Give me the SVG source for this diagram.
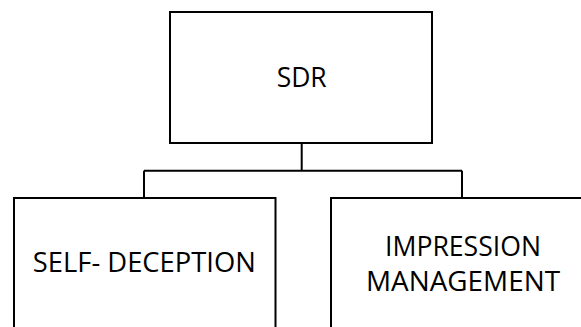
<svg xmlns="http://www.w3.org/2000/svg" width="581" height="327" viewBox="0 0 581 327">
<style>
.box{fill:#ffffff;stroke:#000000;stroke-width:2}
.conn{fill:none;stroke:#000000;stroke-width:2}
.lbl{font-family:"Open Sans","Noto Sans","Liberation Sans",sans-serif;font-size:28px;fill:#000000;text-anchor:middle}
</style>
<rect width="581" height="327" fill="#ffffff"/>
<g id="connectors">
<path class="conn" d="M301.7,143 V170.7 M144,170.7 H462 M144,170.7 V198 M462,170.7 V198"/>
</g>
<g id="sdr">
<rect class="box" x="170" y="12" width="262" height="131"/>
<text class="lbl" x="301.7" y="87.3" textLength="50" lengthAdjust="spacingAndGlyphs">SDR</text>
</g>
<g id="self-deception">
<rect class="box" x="14" y="198" width="261.5" height="150"/>
<text class="lbl" x="144.3" y="272.3" textLength="223" lengthAdjust="spacingAndGlyphs">SELF- DECEPTION</text>
</g>
<g id="impression-management">
<rect class="box" x="331" y="198" width="262" height="150"/>
<text class="lbl" x="463" y="256" textLength="156" lengthAdjust="spacingAndGlyphs">IMPRESSION</text>
<text class="lbl" x="463" y="290.5" textLength="194" lengthAdjust="spacingAndGlyphs">MANAGEMENT</text>
</g>
</svg>
